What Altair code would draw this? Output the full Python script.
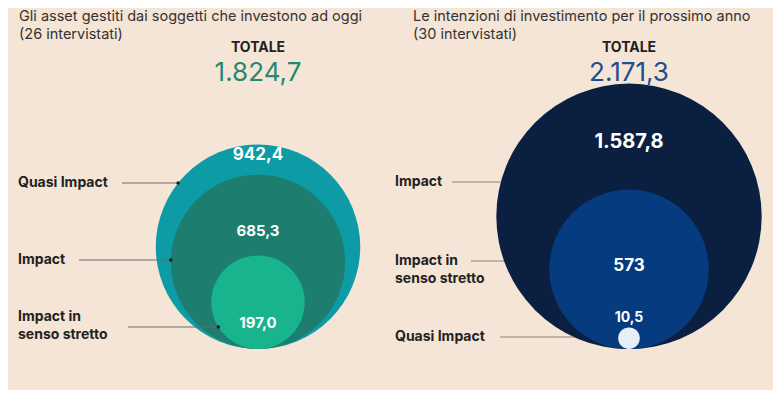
import math
import altair as alt
import pandas as pd

# ---------------- data ----------------
TITLES = [
    "Gli asset gestiti dai soggetti che investono ad oggi\n(26 intervistati)",
    "Le intenzioni di investimento per il prossimo anno\n(30 intervistati)",
]
TOTAL_WORD = "TOTALE"
TOTALS = ["1.824,7", "2.171,3"]

LEFT_CATEGORIES = ["Quasi Impact", "Impact", "Impact in senso stretto"]
LEFT_VALUES = [942.4, 685.3, 197.0]
LEFT_VALUE_LABELS = ["942,4", "685,3", "197,0"]
LEFT_NAME_LABELS = ["Quasi Impact", "Impact", "Impact in\nsenso stretto"]

RIGHT_CATEGORIES = ["Impact", "Impact in senso stretto", "Quasi Impact"]
RIGHT_VALUES = [1587.8, 573.0, 10.5]
RIGHT_VALUE_LABELS = ["1.587,8", "573", "10,5"]
RIGHT_NAME_LABELS = ["Impact", "Impact in\nsenso stretto", "Quasi Impact"]

# ---------------- layout / style ----------------
K = 3.33            # px of radius per sqrt(unit)
BASE_Y = 349        # common bottom of the circles
PANEL_CX = [258, 629]
TITLE_X = [19, 413]
NAME_X = [18, 395]
VALUE_LABEL_Y = [[155, 231, 323], [142, 266, 318]]
VALUE_LABEL_SIZE = [[17, 15, 15], [20, 17, 14]]
NAME_Y = [[183, 260, 317], [182, 261, 337]]   # first line of each label
LEADER_Y = [[183, 260, 327], [182, 261, 337]]
LEADER_X0 = [[122, 79, 128], [452, 471, 500]]
COLORS = [["#0d9ba6", "#1d7d6e", "#18b48d"], ["#0b1f40", "#063b7f", "#e8eef7"]]
TOTAL_COLORS = ["#23896f", "#1d4e8e"]
BG = "#f5e5d6"
FONT = "Inter"

W, H = 765, 382
XS = alt.Scale(domain=[8, 8 + W], nice=False, zero=False)
YS = alt.Scale(domain=[8, 8 + H], nice=False, zero=False, reverse=True)

panels = [
    (LEFT_CATEGORIES, LEFT_VALUES, LEFT_VALUE_LABELS, LEFT_NAME_LABELS),
    (RIGHT_CATEGORIES, RIGHT_VALUES, RIGHT_VALUE_LABELS, RIGHT_NAME_LABELS),
]

circ_rows, lead_rows, name_rows, vlab_rows = [], [], [], []
keys, colors = [], []
for p, (cats, vals, vlabs, nlabs) in enumerate(panels):
    for i, (c, v, vl, nl) in enumerate(zip(cats, vals, vlabs, nlabs)):
        key = f"{p}-{c}"
        keys.append(key)
        colors.append(COLORS[p][i])
        circ_rows.append({"panel": p, "key": key, "value": v, "cx": PANEL_CX[p]})
        vlab_rows.append({"panel": p, "label": vl, "cx": PANEL_CX[p],
                          "ly": VALUE_LABEL_Y[p][i], "fs": VALUE_LABEL_SIZE[p][i]})
        name_rows.append({"panel": p, "label": nl, "nx": NAME_X[p], "ny": NAME_Y[p][i]})
        lead_rows.append({"panel": p, "target": v, "cx": PANEL_CX[p],
                          "ly": LEADER_Y[p][i], "x0": LEADER_X0[p][i]})
total_keys = ["total-0", "total-1"]
keys += total_keys
colors += TOTAL_COLORS

circles_df = pd.DataFrame(circ_rows)
leaders_df = pd.DataFrame(lead_rows)
names_df = pd.DataFrame(name_rows)
vlabs_df = pd.DataFrame(vlab_rows)
head_df = pd.DataFrame({
    "title": TITLES, "tx": TITLE_X, "cx": PANEL_CX,
    "total": TOTALS, "word": [TOTAL_WORD, TOTAL_WORD], "key": total_keys,
})

COLOR_SCALE = alt.Scale(domain=keys, range=colors)

# Vega circle symbols: size = (2r)^2
circles = alt.Chart(circles_df).transform_calculate(
    cy=f"{BASE_Y} - {K} * sqrt(datum.value)"
).mark_circle(opacity=1, strokeWidth=0).encode(
    x=alt.X("cx:Q", scale=XS, axis=None),
    y=alt.Y("cy:Q", scale=YS, axis=None),
    size=alt.Size("value:Q", scale=alt.Scale(type="linear", domain=[0, 1000],
                                             range=[0, 1000 * 4 * K * K]),
                  legend=None),
    color=alt.Color("key:N", scale=COLOR_SCALE, legend=None),
    order=alt.Order("value:Q", sort="descending"),
)

lead_base = alt.Chart(leaders_df).transform_calculate(
    r=f"{K} * sqrt(datum.target)",
).transform_calculate(
    cy=f"{BASE_Y} - datum.r",
).transform_calculate(
    x1="datum.cx - sqrt(max(0, datum.r * datum.r - pow(datum.ly - datum.cy, 2)))"
)

lead_right = lead_base.transform_filter("datum.panel == 1").mark_rule(
    color="#8a8178", strokeWidth=1
).encode(
    x=alt.X("x0:Q", scale=XS, axis=None), x2="x1:Q",
    y=alt.Y("ly:Q", scale=YS, axis=None),
)
lead_left = lead_base.transform_filter("datum.panel == 0").mark_rule(
    color="#6e6a66", strokeWidth=1
).encode(
    x=alt.X("x0:Q", scale=XS, axis=None), x2="x1:Q",
    y=alt.Y("ly:Q", scale=YS, axis=None),
)
lead_dots = lead_base.transform_filter("datum.panel == 0").mark_circle(
    opacity=1, size=12, color="#1a1a1a"
).encode(
    x=alt.X("x1:Q", scale=XS, axis=None),
    y=alt.Y("ly:Q", scale=YS, axis=None),
)

titles = alt.Chart(head_df).mark_text(
    align="left", baseline="alphabetic", fontSize=14.5, font=FONT,
    color="#333333", lineBreak="\n", lineHeight=18,
).encode(
    x=alt.X("tx:Q", scale=XS, axis=None),
    y=alt.Y("ty:Q", scale=YS, axis=None),
    text="title:N",
).transform_calculate(ty="21")

totale = alt.Chart(head_df).mark_text(
    align="center", baseline="alphabetic", fontSize=14, font=FONT,
    fontWeight="bold", color="#222222",
).encode(
    x=alt.X("cx:Q", scale=XS, axis=None),
    y=alt.Y("ty:Q", scale=YS, axis=None),
    text="word:N",
).transform_calculate(ty="52")

totals = alt.Chart(head_df).mark_text(
    align="center", baseline="alphabetic", fontSize=26, font=FONT,
).encode(
    x=alt.X("cx:Q", scale=XS, axis=None),
    y=alt.Y("ty:Q", scale=YS, axis=None),
    text="total:N",
    color=alt.Color("key:N", scale=COLOR_SCALE, legend=None),
).transform_calculate(ty="81")

names = alt.Chart(names_df).mark_text(
    align="left", baseline="middle", fontSize=14, font=FONT, fontWeight="bold",
    color="#222222", lineBreak="\n", lineHeight=18,
).encode(
    x=alt.X("nx:Q", scale=XS, axis=None),
    y=alt.Y("ny:Q", scale=YS, axis=None),
    text="label:N",
)

vlabels = alt.Chart(vlabs_df).mark_text(
    align="center", baseline="middle", font=FONT, fontWeight="bold", color="white",
).encode(
    x=alt.X("cx:Q", scale=XS, axis=None),
    y=alt.Y("ly:Q", scale=YS, axis=None),
    size=alt.Size("fs:Q", scale=None),
    text="label:N",
)

chart = alt.layer(
    lead_right, circles, lead_left, lead_dots, titles, totale, totals, names, vlabels
).properties(
    width=W, height=H, background=BG, padding=0,
    autosize=alt.AutoSizeParams(type="none"),
).configure_view(stroke=None)

chart.save("out.html", embed_options={"renderer": "svg", "actions": False})
